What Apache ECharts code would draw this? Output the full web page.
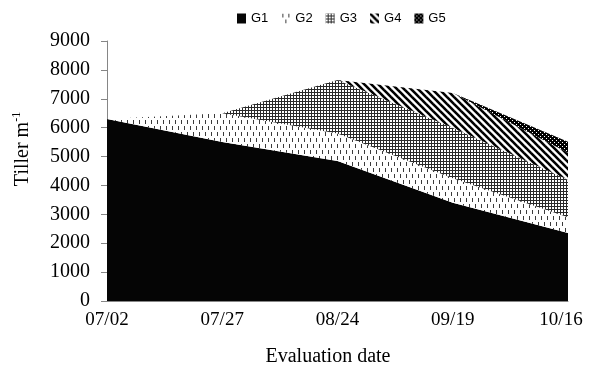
<!DOCTYPE html>
<html><head><meta charset="utf-8">
<script src="https://cdn.jsdelivr.net/npm/echarts@6/dist/echarts.min.js"></script>
<style>html,body{margin:0;padding:0;background:#fff}#c{width:589px;height:367px}</style>
</head><body><div id="c"></div>
<script>
const categories = ['07/02', '07/27', '08/24', '09/19', '10/16'];
const seriesNames = ['G1', 'G2', 'G3', 'G4', 'G5'];
const g1 = [6300, 5500, 4850, 3400, 2350];
const g2 = [0, 1000, 950, 850, 550];
const g3 = [0, 0, 1850, 1750, 1300];
const g4 = [0, 0, 0, 1200, 930];
const g5 = [0, 0, 0, 0, 380];
const yTicks = {min: 0, max: 9000, interval: 1000};

function pat(w, h, draw) {
  const c = document.createElement('canvas');
  c.width = w; c.height = h;
  const ctx = c.getContext('2d');
  ctx.fillStyle = '#fff'; ctx.fillRect(0, 0, w, h);
  draw(ctx);
  return {image: c, repeat: 'repeat'};
}
const fills = [
  '#050505',
  pat(6, 12, ctx => { ctx.fillStyle = '#3a3a3a'; ctx.fillRect(1, 0, 1, 4); ctx.fillRect(4, 6, 1, 4); }),
  pat(3, 3, ctx => { ctx.fillStyle = '#2a2a2a'; ctx.fillRect(0, 0, 3, 3); ctx.fillStyle = '#fff'; ctx.fillRect(0, 0, 2, 2); }),
  pat(7, 7, ctx => { ctx.strokeStyle = '#000'; ctx.lineWidth = 2.6;
    for (const k of [-7, 0, 7]) { ctx.beginPath(); ctx.moveTo(k - 1, -1); ctx.lineTo(k + 8, 8); ctx.stroke(); } }),
  pat(4, 4, ctx => { ctx.fillStyle = '#000'; ctx.fillRect(0, 0, 4, 4); ctx.fillStyle = '#fff'; ctx.fillRect(0, 0, 1, 1); ctx.fillRect(2, 2, 1, 1); })
];
const values = [g1, g2, g3, g4, g5];

const chart = echarts.init(document.getElementById('c'), null, {renderer: 'canvas'});
chart.setOption({
  animation: false,
  grid: {left: 107, right: 21, top: 41, bottom: 66},
  legend: {
    left: 237, top: 12, padding: 0, icon: 'rect', itemWidth: 9, itemHeight: 10, itemGap: 13,
    textStyle: {fontFamily: 'Liberation Sans', fontSize: 13, color: '#000'},
    data: seriesNames.map((n, i) => ({name: n, itemStyle: {color: fills[i]}}))
  },
  xAxis: {
    type: 'category', data: categories, boundaryGap: false,
    axisLine: {lineStyle: {color: '#868686', width: 1}},
    axisTick: {show: false},
    axisLabel: {fontFamily: 'Liberation Serif', fontSize: 19, color: '#000', margin: 10,
      formatter: (v, i) => i === categories.length - 1 ? '{l|' + v + '}' : v,
      rich: {l: {fontFamily: 'Liberation Serif', fontSize: 19, color: '#000', padding: [0, 14, 0, 0]}}}
  },
  yAxis: {
    type: 'value', min: yTicks.min, max: yTicks.max, interval: yTicks.interval,
    axisLine: {show: true, lineStyle: {color: '#868686', width: 1}},
    axisTick: {show: true, length: 6, lineStyle: {color: '#868686'}},
    splitLine: {show: false},
    axisLabel: {fontFamily: 'Liberation Serif', fontSize: 20, color: '#000', margin: 17,
      formatter: v => String(v)}
  },
  graphic: [
    {type: 'text', x: 328, y: 357, style: {text: 'Evaluation date', font: '20px "Liberation Serif"', fill: '#000', textAlign: 'center', textVerticalAlign: 'middle'}},
    {type: 'text', x: 22, y: 149, rotation: Math.PI / 2,
      style: {text: '{a|Tiller m}{b|-1}', textAlign: 'center', textVerticalAlign: 'middle',
        rich: {a: {font: '20px "Liberation Serif"', fill: '#000', lineHeight: 22, verticalAlign: 'bottom'},
               b: {font: '12px "Liberation Serif"', fill: '#000', lineHeight: 22, verticalAlign: 'top'}}}}
  ],
  series: seriesNames.map((n, i) => ({
    name: n, type: 'line', stack: 'total', data: values[i],
    showSymbol: false, symbol: 'none',
    lineStyle: {width: 0, opacity: 0},
    itemStyle: {color: fills[i]},
    areaStyle: {color: fills[i], opacity: 1}
  }))
});
</script></body></html>
